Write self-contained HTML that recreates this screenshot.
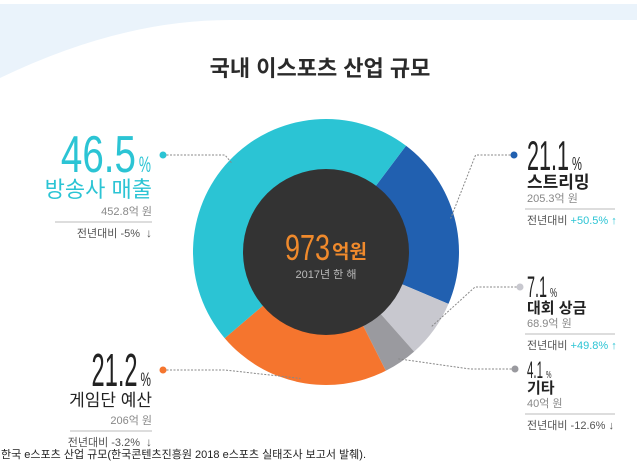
<!DOCTYPE html>
<html><head><meta charset="utf-8">
<style>
body{margin:0;background:#fff;}
svg{display:block;font-family:"Liberation Sans","Noto Sans CJK KR",sans-serif;}
</style></head>
<body>
<svg width="637" height="467" viewBox="0 0 637 467">
<path d="M0 4 H637 V20 H230 Q120 20 0 78 Z" fill="#eaf3fb"/>
<text x="320" y="76" text-anchor="middle" font-size="22" font-weight="bold" fill="#2a2a2a">국내 이스포츠 산업 규모</text>
<g id="donut"></g>
<circle cx="326" cy="252" r="83" fill="#333333"/>
<text x="285" y="260" font-size="36" fill="#f08a2c" textLength="45" lengthAdjust="spacingAndGlyphs">973</text>
<text x="332" y="258" font-size="19" fill="#f08a2c" font-weight="bold">억원</text>
<text x="326" y="278" text-anchor="middle" font-size="11" fill="#bbb">2017년 한 해</text>
<g id="labels"></g>
<text x="1" y="458" font-size="11" fill="#222">한국 e스포츠 산업 규모(한국콘텐츠진흥원 2018 e스포츠 실태조사 보고서 발췌).</text>
</svg>
<script>
const categories=["스트리밍","대회 상금","기타","게임단 예산","방송사 매출"];
const shares=[21.1,7.1,4.1,21.2,46.5];
const amounts=["205.3억 원","68.9억 원","40억 원","206억 원","452.8억 원"];
const changes=["+50.5%","+49.8%","-12.6%","-3.2%","-5%"];
const colors=["#2160b0","#c8c8cf","#9a9a9f","#f5752e","#2bc4d4"];
const startAngle=37;
const cx=326,cy=252,R=133,r0=80;
const NS="http://www.w3.org/2000/svg";
const donut=document.getElementById('donut');
const total=shares.reduce((a,b)=>a+b,0);
function pt(a,rad){const t=(a-90)*Math.PI/180;return [cx+rad*Math.cos(t),cy+rad*Math.sin(t)];}
let a=startAngle;const mids=[];
shares.forEach((v,i)=>{
 const sweep=v/total*360;const a2=a+sweep;
 const p1=pt(a,R),p2=pt(a2,R),q1=pt(a2,r0),q2=pt(a,r0);
 const lg=sweep>180?1:0;
 const p=document.createElementNS(NS,'path');
 p.setAttribute('d',`M${p1[0]} ${p1[1]} A${R} ${R} 0 ${lg} 1 ${p2[0]} ${p2[1]} L${q1[0]} ${q1[1]} A${r0} ${r0} 0 ${lg} 0 ${q2[0]} ${q2[1]}Z`);
 p.setAttribute('fill',colors[i]);
 
 
 donut.appendChild(p);
 mids.push(a+sweep/2);a=a2;
});
// layout: side, dotX, dotY, textX, pctBaseline, fontSize, numberWidth, catSize, catGap
const lay=[["r",514,155,527,170,42,42,17,18],["r",520,287,527,297,30,20,15,16],["r",515,369,527,378,24,16,15,15],["l",163,370,152,386,46,46,17,20],["l",163,155,152,172,52,75,22,25]];
const L=document.getElementById('labels');
function el(tag,attrs,txt){const e=document.createElementNS(NS,tag);for(const k in attrs)e.setAttribute(k,attrs[k]);if(txt!==undefined)e.textContent=txt;L.appendChild(e);return e;}
shares.forEach((v,i)=>{
 const [side,dx,dy,tx,py,fs,nw,cs,cg]=lay[i];
 const m=pt(mids[i],R-4);
 const elbowX=side==="r"?Math.max(m[0]+25,dx-45):Math.min(m[0]-5,dx+62);
 const ln=el('polyline',{points:`${dx} ${dy} ${elbowX} ${dy} ${m[0]} ${m[1]}`,fill:'none',stroke:'#888','stroke-width':1,'stroke-dasharray':'2 1.5'});
 
 
 const dot=el('circle',{cx:dx,cy:dy,r:3.5,fill:colors[i]});
 
 
 const anc=side==="r"?"start":"end";
 const pc=i===4?"#2bc4d4":"#222";
 const ps=Math.round(fs*0.42);const pw=ps*0.55;
 const nx=side==="r"?tx:tx-pw-4-nw;
 const t=el('text',{x:nx,y:py,fill:pc,'font-size':fs,textLength:nw,lengthAdjust:'spacingAndGlyphs'},v.toFixed(1));
 
 
 const pct=el('text',{x:nx+nw+3,y:py,fill:pc,'font-size':ps,textLength:pw,lengthAdjust:'spacingAndGlyphs'},'%');
 
 
 const cy1=py+cg;
 const cat=el('text',{x:tx,y:cy1,'text-anchor':anc,fill:i===4?"#2bc4d4":"#222",'font-size':cs,'font-weight':i>=3?'normal':'bold'},categories[i]);
 
 
 const ay=cy1+(i>=3?18:14);
 const am=el('text',{x:tx,y:ay,'text-anchor':anc,fill:'#888','font-size':11},amounts[i]);
 
 
 const ly=ay+7;
 const x1=side==="r"?tx-2:tx-(i===4?97:82),x2=side==="r"?tx+88:tx;
 const hr=el('line',{x1:x1,x2:x2,y1:ly,y2:ly,stroke:'#bbb','stroke-width':1});
 
 
 const up=changes[i][0]==='+';
 const ct=el('text',{x:side==="r"?tx:tx-12,y:ly+15,'text-anchor':anc,fill:'#555','font-size':11});
 const c1=document.createElementNS(NS,'tspan');c1.textContent='전년대비 ';ct.appendChild(c1);
 const c2=document.createElementNS(NS,'tspan');c2.setAttribute('fill',up?'#2bc4d4':'#555');c2.textContent=changes[i];ct.appendChild(c2);
 const c3=document.createElementNS(NS,'tspan');c3.setAttribute('fill',up?'#2bc4d4':'#555');c3.setAttribute('font-weight','bold');c3.textContent=side==="r"?(up?' ↑':' ↓'):'';ct.appendChild(c3);
 
 
 if(side==="l"){const ar=el('text',{x:tx,y:ly+15,'text-anchor':'end',fill:'#555','font-size':12,'font-weight':'bold'},up?'↑':'↓');
 
 }
});
</script>
</body></html>
